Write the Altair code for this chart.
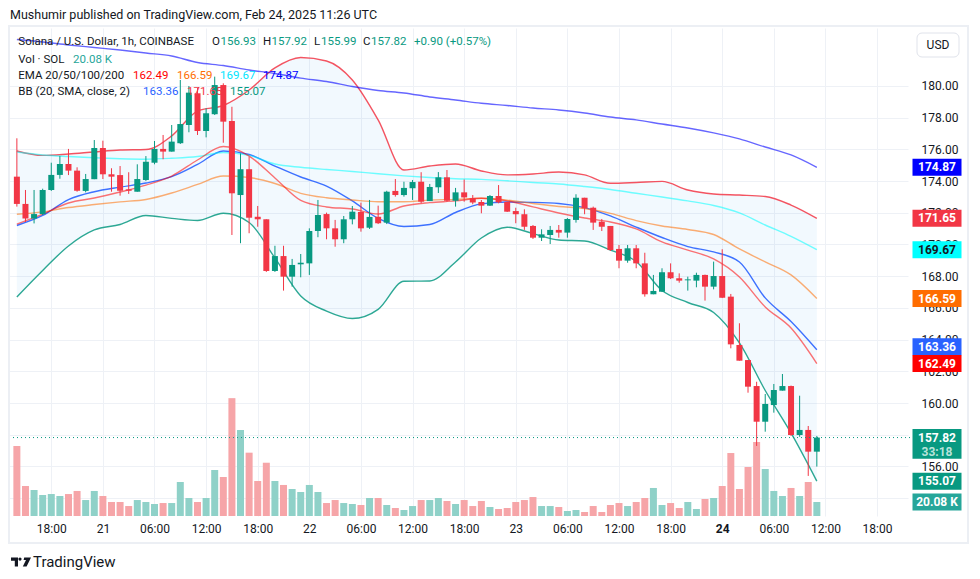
import altair as alt
import pandas as pd

# ---------------- data ----------------
START = "2025-02-20 14:00"   # first hourly candle (UTC)

OPEN = [174.28,172.56,171.64,171.92,173.44,174.39,175.08,174.66,173.38,174.12,
        176.09,174.43,174.38,173.48,173.33,174.07,175.16,176.03,175.86,176.39,
        177.54,179.54,177.16,178.22,180.06,177.79,173.12,174.75,171.75,171.59,
        168.33,169.27,167.97,168.75,168.81,170.85,171.92,171.02,170.33,171.59,
        172.05,171.06,171.75,171.38,173.38,173.12,173.55,173.96,172.74,173.61,
        174.24,172.76,173.29,172.92,172.68,172.45,173.06,172.68,172.11,171.91,
        171.17,170.43,170.60,170.92,170.75,171.55,172.95,172.32,171.44,171.17,
        169.72,168.98,169.76,168.81,166.86,167.02,168.25,167.87,167.74,167.72,
        168.08,167.34,168.01,166.71,163.66,162.71,161.07,158.82,159.87,160.78,
        161.07,157.98,158.30,156.93]
HIGH = [176.70,173.44,173.44,173.52,175.16,175.58,176.03,174.87,174.45,176.59,
        176.55,174.81,174.95,174.56,175.06,175.58,176.53,176.91,177.54,180.38,
        180.00,179.87,178.59,180.59,180.17,178.69,175.75,175.54,172.43,171.59,
        169.92,169.92,169.09,169.40,171.02,172.81,172.01,171.55,171.80,172.43,
        172.64,172.81,172.45,173.39,174.13,173.96,174.07,174.56,173.82,174.57,
        174.70,173.57,174.10,173.12,172.81,173.12,173.75,172.70,172.32,172.22,
        171.23,170.96,171.17,171.23,171.67,173.17,172.95,172.39,171.61,171.17,
        169.97,169.97,169.97,169.48,168.08,168.50,168.81,168.18,167.97,168.22,
        168.10,168.92,169.70,166.88,165.03,162.71,161.34,160.57,161.20,161.83,
        161.10,160.46,158.55,157.92]
LOW = [172.39,171.42,171.33,171.86,173.38,174.15,174.38,173.33,173.29,174.12,
       174.13,173.33,173.08,173.19,173.33,174.01,175.06,175.38,175.86,176.34,
       177.08,176.91,176.76,178.17,176.42,170.60,170.08,170.71,171.12,168.27,
       168.27,167.09,167.34,167.93,168.08,170.46,170.33,169.86,170.08,171.27,
       170.81,170.98,171.29,171.29,173.02,173.02,172.81,172.60,172.74,173.25,
       172.70,172.39,172.70,172.54,171.97,172.43,172.60,172.05,171.34,170.92,
       170.35,170.22,170.03,170.43,170.43,171.38,171.91,170.92,170.85,169.59,
       168.50,168.85,168.50,166.71,166.86,167.00,167.82,167.59,167.09,167.30,
       166.46,167.17,166.62,163.45,162.67,160.65,157.29,158.19,159.39,160.78,
       157.92,157.87,155.40,155.99]
CLOSE = [172.56,171.64,171.92,173.44,174.39,175.08,174.66,173.39,174.13,176.09,
         174.43,174.28,173.39,173.39,174.13,175.22,176.03,175.86,176.49,177.60,
         179.58,177.16,178.28,180.06,177.75,173.23,174.75,171.69,171.59,168.33,
         169.27,167.97,168.71,168.85,170.85,171.86,171.02,170.33,171.59,172.07,
         171.02,171.74,171.34,173.33,173.12,173.57,173.94,172.70,173.63,174.24,
         172.76,173.29,172.97,172.65,172.45,173.06,172.66,172.07,171.91,171.12,
         170.43,170.64,170.92,170.75,171.61,172.95,172.28,171.38,171.12,169.65,
         168.98,169.76,168.81,166.86,167.07,168.25,167.87,167.72,167.80,168.08,
         167.34,168.01,166.64,163.70,162.67,161.03,158.82,159.94,160.82,161.07,
         157.98,158.30,156.93,157.82]
VOLUME_K = [100.4,43.0,37.3,30.1,31.5,28.7,31.5,35.9,22.9,35.9,
            28.7,20.1,20.1,14.3,22.9,20.1,17.2,18.6,18.6,48.8,
            25.8,20.1,25.8,66.0,55.9,169.0,123.3,90.8,50.2,76.4,
            50.2,44.5,38.7,34.4,44.5,34.4,18.6,22.9,18.6,17.2,
            15.8,25.8,25.8,15.8,11.5,8.6,14.3,22.9,22.9,25.8,
            21.5,17.2,22.9,14.3,21.5,12.9,10.0,11.5,20.1,22.9,
            27.2,14.3,14.3,12.9,7.2,8.6,5.7,14.3,5.7,15.8,
            18.6,14.3,20.1,25.8,40.2,15.8,18.6,11.5,20.1,10.0,
            24.4,25.8,43.0,90.3,38.7,70.3,106.1,67.4,35.9,28.7,
            40.2,28.7,48.8,20.08]

# indicator lines, read every 3rd candle
LINE_IDX = list(range(0, 94, 3))
BB_UPPER = [175.90,175.62,175.71,175.84,175.96,175.99,176.85,178.42,178.77,179.75,
            181.14,181.80,181.58,180.38,177.86,174.70,174.95,175.08,174.64,174.39,
            174.45,174.57,174.39,173.86,173.91,173.98,173.44,173.19,173.12,173.03,
            172.49,171.65]
BB_LOWER = [166.69,168.36,169.91,170.92,171.26,171.83,171.65,171.51,171.97,171.39,
            169.15,166.75,165.80,165.33,165.91,167.68,167.70,168.90,170.41,171.09,
            170.69,170.28,170.22,169.65,168.93,167.10,166.34,165.71,163.79,160.79,
            158.11,155.07]
BB_BASIS = [171.20,171.83,172.83,173.33,173.62,173.88,174.28,175.05,175.90,175.68,
            174.95,174.26,173.69,172.75,171.65,171.14,171.26,172.02,172.56,172.68,
            172.66,172.59,172.33,171.80,171.10,170.44,169.87,169.53,168.90,166.63,
            165.14,163.36]
EMA20 = [171.29,171.92,172.62,172.93,173.31,173.75,174.32,175.33,176.18,175.58,
         174.20,172.78,172.37,172.24,171.92,172.43,172.64,172.75,172.92,172.75,
         172.37,171.99,171.67,171.42,170.98,170.16,169.65,169.09,167.95,166.06,
         164.73,162.49]
EMA50 = [171.91,172.06,172.33,172.52,172.69,172.84,173.25,173.79,174.32,174.23,
         173.85,173.23,172.95,172.81,172.70,172.70,172.80,172.85,172.92,172.80,
         172.59,172.40,172.27,171.96,171.51,171.17,170.95,170.63,169.72,168.90,
         168.08,166.59]
EMA100 = [175.84,175.65,175.55,175.47,175.41,175.38,175.44,175.55,175.80,175.62,
          175.08,174.87,174.73,174.61,174.46,174.33,174.23,174.15,174.11,174.02,
          173.91,173.82,173.66,173.47,173.23,173.00,172.75,172.46,171.99,171.23,
          170.51,169.67]
EMA200 = [182.93,182.78,182.59,182.43,182.27,182.08,181.89,181.48,181.29,181.01,
          180.79,180.50,180.28,179.97,179.72,179.56,179.31,179.12,178.91,178.77,
          178.61,178.49,178.30,178.04,177.86,177.60,177.35,177.04,176.66,176.15,
          175.65,174.87]

PRICE_TICKS = list(range(154, 182, 2))
TICK_HOURS = list(range(0, 97, 6))   # hours after 2025-02-20 18:00 UTC

# ---------------- styling ----------------
FONT = "Roboto"
INK = "#131722"
UP, DOWN = "#089981", "#f23645"
UPV, DOWNV = "#8fd1c8", "#f6a5a8"
GRID = "#eef1f6"

times = pd.date_range(START, periods=len(CLOSE), freq="h")
tstr = [t.strftime("%Y-%m-%dT%H:%M:%SZ") for t in times]

candles = pd.DataFrame({"t": tstr, "o": OPEN, "h": HIGH, "l": LOW, "c": CLOSE, "v": VOLUME_K})
candles["col"] = [UP if c >= o else DOWN for o, c in zip(OPEN, CLOSE)]
candles["vcol"] = [UPV if c >= o else DOWNV for o, c in zip(OPEN, CLOSE)]

lines = pd.DataFrame({
    "t": [tstr[i] for i in LINE_IDX],
    "bbu": BB_UPPER, "bbl": BB_LOWER, "bbm": BB_BASIS,
    "e20": EMA20, "e50": EMA50, "e100": EMA100, "e200": EMA200,
})

W, H = 899, 488
base = pd.Timestamp("2025-02-20 18:00")
tick_dt = []
for hh in TICK_HOURS:
    d = base + pd.Timedelta(hours=hh)
    tick_dt.append(alt.DateTime(year=d.year, month=d.month, date=d.day, hours=d.hour, utc=True))

XS = alt.Scale(type="utc", domain=[
    alt.DateTime(year=2025, month=2, date=20, hours=13, minutes=40, utc=True),
    alt.DateTime(year=2025, month=2, date=24, hours=21, minutes=1, utc=True)])
XAXIS = alt.Axis(
    values=tick_dt,
    labelExpr="utchours(datum.value) == 0 ? utcFormat(datum.value, '%-d') : utcFormat(datum.value, '%H:%M')",
    labelFontWeight={"condition": {"test": "utchours(datum.value) == 0 && utcdate(datum.value) == 24",
                                   "value": "bold"}, "value": "normal"},
    grid=True, gridColor=GRID, gridWidth=1, domain=False, ticks=False,
    labelPadding=7, labelFontSize=12, labelColor=INK, labelFont=FONT,
    title=None, zindex=0, labelOverlap=False, labelFlush=False)
X = alt.X("t:T", scale=XS, axis=XAXIS)

PY = alt.Scale(domain=[152.871, 183.659], nice=False, zero=False)
VY = alt.Scale(domain=[0, 699.8], nice=False, zero=False)
YAXIS = alt.Axis(orient="right", values=PRICE_TICKS, format=".2f", grid=True, gridColor=GRID,
                 domain=False, ticks=False, labelPadding=13, labelFontSize=12, labelColor=INK,
                 labelFont=FONT, title=None, zindex=0)

ONE = pd.DataFrame({"k": [0]})


def label(txt, px, py, color=INK, size=11.5, weight="normal", align="left"):
    return alt.Chart(ONE).mark_text(text=txt, align=align, baseline="middle", fontSize=size,
                                    fontWeight=weight, color=color, font=FONT).encode(
        x=alt.value(px), y=alt.value(py))


# ---------------- layers ----------------
axis_layer = alt.Chart(candles).mark_rule(opacity=0).encode(
    x=X, y=alt.Y("c:Q", scale=PY, axis=YAXIS))

bb_fill = alt.Chart(lines).mark_area(color="#2196f3", opacity=0.06, interpolate="monotone").encode(
    x=X, y=alt.Y("bbu:Q", scale=PY, axis=None), y2="bbl:Q")

vol_bars = alt.Chart(candles).mark_bar(width=7).encode(
    x=X, y=alt.Y("v:Q", scale=VY, axis=None), color=alt.Color("vcol:N", scale=None))

BOX = "M-1,-0.347L1,-0.347L1,0.347L-1,0.347Z"
BOX2 = "M-1,-0.347L1,-0.347L1,0.86L-1,0.86Z"
vol_lab = pd.DataFrame({"v": [VOLUME_K[-1]], "txt": [f"{VOLUME_K[-1]:.2f} K"]})
vol_box = alt.Chart(vol_lab).mark_point(shape=BOX, size=2401, filled=True, opacity=1,
                                        strokeWidth=0, color="#26a69a").encode(
    x=alt.value(928), y=alt.Y("v:Q", scale=VY, axis=None))
vol_txt = alt.Chart(vol_lab).mark_text(fontSize=12, fontWeight="bold", color="white",
                                       font=FONT).encode(
    x=alt.value(928), y=alt.Y("v:Q", scale=VY, axis=None), text="txt:N")
vol_group = alt.layer(vol_bars, vol_box, vol_txt)


def ln(field, color, op, w=1.4):
    return alt.Chart(lines).mark_line(color=color, opacity=op, strokeWidth=w,
                                      interpolate="monotone").encode(
        x=X, y=alt.Y(f"{field}:Q", scale=PY, axis=None))


line_layers = [
    ln("bbu", "#f23645", 0.85), ln("bbl", "#089981", 0.85), ln("bbm", "#2962ff", 0.9),
    ln("e200", "#0000ff", 0.6), ln("e100", "#00ffff", 0.55), ln("e50", "#ff6d00", 0.55),
    ln("e20", "#ff0000", 0.55),
]

wicks = alt.Chart(candles).mark_rule(strokeWidth=1).encode(
    x=X, y=alt.Y("l:Q", scale=PY, axis=None), y2="h:Q", color=alt.Color("col:N", scale=None))
bodies = alt.Chart(candles).mark_bar(width=6).encode(
    x=X, y=alt.Y("o:Q", scale=PY, axis=None), y2="c:Q", color=alt.Color("col:N", scale=None))

last = alt.Chart(pd.DataFrame({"v": [CLOSE[-1]]})).mark_rule(
    color=UP, strokeDash=[1, 3], strokeWidth=1).encode(
    y=alt.Y("v:Q", scale=PY, axis=None), x=alt.value(0), x2=alt.value(903))

plabels = pd.DataFrame({
    "v": [EMA200[-1], BB_UPPER[-1], EMA100[-1], EMA50[-1], BB_LOWER[-1]],
    "bg": ["#0000ff", "#f23645", "#00ffff", "#ff6d00", "#089981"],
    "fg": ["white", "white", INK, "white", "white"],
})
plabels["txt"] = [f"{v:.2f}" for v in plabels["v"]]
p_box = alt.Chart(plabels).mark_point(shape=BOX, size=2401, filled=True, opacity=1, strokeWidth=0).encode(
    x=alt.value(928), y=alt.Y("v:Q", scale=PY, axis=None), color=alt.Color("bg:N", scale=None))
p_txt = alt.Chart(plabels).mark_text(fontSize=12, fontWeight="bold", font=FONT).encode(
    x=alt.value(928), y=alt.Y("v:Q", scale=PY, axis=None), text="txt:N",
    color=alt.Color("fg:N", scale=None))


def single_box(value, bg, dy=0):
    d = pd.DataFrame({"v": [value], "txt": [f"{value:.2f}"]})
    b = alt.Chart(d).mark_point(shape=BOX, size=2401, filled=True, opacity=1, strokeWidth=0,
                                color=bg, yOffset=dy).encode(
        x=alt.value(928), y=alt.Y("v:Q", scale=PY, axis=None))
    t = alt.Chart(d).mark_text(fontSize=12, fontWeight="bold", font=FONT, color="white", dy=dy).encode(
        x=alt.value(928), y=alt.Y("v:Q", scale=PY, axis=None), text="txt:N")
    return [b, t]


close_lab = pd.DataFrame({"v": [CLOSE[-1]], "txt": [f"{CLOSE[-1]:.2f}"]})
c_box = alt.Chart(close_lab).mark_point(shape=BOX2, size=2401, filled=True, opacity=1, strokeWidth=0,
                                        color=UP).encode(
    x=alt.value(928), y=alt.Y("v:Q", scale=PY, axis=None))
c_txt = alt.Chart(close_lab).mark_text(fontSize=12, fontWeight="bold", font=FONT, color="white").encode(
    x=alt.value(928), y=alt.Y("v:Q", scale=PY, axis=None), text="txt:N")
c_cd = alt.Chart(close_lab).mark_text(fontSize=12, fontWeight="bold", font=FONT, color="#b8e3da",
                                      text="33:18", dy=14).encode(
    x=alt.value(928), y=alt.Y("v:Q", scale=PY, axis=None))

price_group = alt.layer(*line_layers, wicks, bodies, last, p_box, p_txt,
                        *single_box(BB_BASIS[-1], "#2962ff", -3),
                        *single_box(EMA20[-1], "#ff0000"),
                        c_box, c_txt, c_cd)

# frame and header / footer
frame = alt.Chart(ONE).mark_rect(fillOpacity=0, stroke="#eceff4", strokeWidth=2).encode(
    x=alt.value(0), x2=alt.value(959), y=alt.value(-2), y2=alt.value(515))
usd_box = alt.Chart(ONE).mark_rect(fill="white", stroke="#e0e3eb", strokeWidth=1, cornerRadius=5).encode(
    x=alt.value(908), x2=alt.value(950), y=alt.value(5), y2=alt.value(29))

LOGO = ("M-1,-0.45L-0.3,-0.45L-0.3,0.45L-0.62,0.45L-0.62,-0.13L-1,-0.13Z "
        "M-0.26,-0.29A0.16,0.16 0 1,0 0.06,-0.29A0.16,0.16 0 1,0 -0.26,-0.29Z "
        "M0.32,-0.45L1,-0.45L0.56,0.45L0.18,0.45L0.5,-0.2L0.26,-0.2Z")
logo = alt.Chart(ONE).mark_point(shape=LOGO, size=400, filled=True, opacity=1, strokeWidth=0,
                                 color=INK).encode(x=alt.value(12), y=alt.value(534))

texts = [
    label("Mushumir published on TradingView.com, Feb 24, 2025 11:26 UTC", 1, -13, size=12.5),
    label("USD", 929, 17, align="center", size=12),
    label("Solana / U.S. Dollar, 1h, COINBASE", 9.3, 14),
    label("O", 203, 14), label(f"{OPEN[-1]:.2f}", 211.5, 14, color=UP),
    label("H", 254, 14), label(f"{HIGH[-1]:.2f}", 262.5, 14, color=UP),
    label("L", 305, 14), label(f"{LOW[-1]:.2f}", 312, 14, color=UP),
    label("C", 354, 14), label(f"{CLOSE[-1]:.2f}", 362, 14, color=UP),
    label("+0.90 (+0.57%)", 405, 14, color=UP),
    label("Vol · SOL", 9.3, 31.5), label(f"{VOLUME_K[-1]:.2f} K", 64, 31.5, color="#26a69a"),
    label("EMA 20/50/100/200", 9.3, 48),
    label(f"{EMA20[-1]:.2f}", 124, 48, color="#ff0000"),
    label(f"{EMA50[-1]:.2f}", 168, 48, color="#ff6d00"),
    label(f"{EMA100[-1]:.2f}", 211, 48, color="#00e5ff"),
    label(f"{EMA200[-1]:.2f}", 254, 48, color="#0000ff"),
    label("BB (20, SMA, close, 2)", 9.3, 64),
    label(f"{BB_BASIS[-1]:.2f}", 134, 64, color="#2962ff"),
    label(f"{BB_UPPER[-1]:.2f}", 178, 64, color="#f23645"),
    label(f"{BB_LOWER[-1]:.2f}", 221, 64, color="#089981"),
    label("TradingView", 24, 534, size=15),
]

chart = alt.layer(axis_layer, bb_fill, vol_group, price_group, frame, usd_box, logo, *texts).resolve_scale(
    y="independent").properties(
    width=W, height=H, background="white",
    autosize=alt.AutoSizeParams(type="none"),
    padding={"left": 1, "top": 20, "right": 64, "bottom": 63},
).configure_view(stroke=None)

chart.save("out.html", embed_options={"renderer": "svg", "actions": False})
